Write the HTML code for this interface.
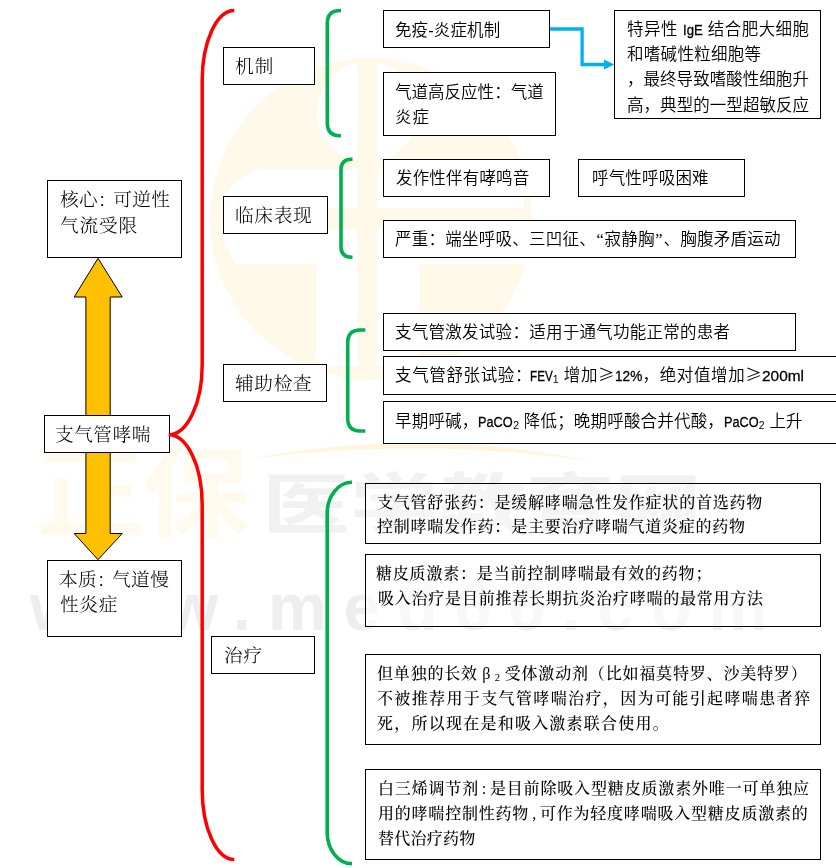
<!DOCTYPE html><html lang="zh-CN"><head><meta charset="utf-8"><title>支气管哮喘</title><style>

*{margin:0;padding:0;box-sizing:border-box}
html,body{width:836px;height:868px;background:#fff;overflow:hidden}
#stage{position:relative;width:836px;height:868px;overflow:hidden;background:#fff}
svg.bg,svg.fg{position:absolute;left:0;top:0}
.b{position:absolute;border:1px solid #000;background:#fff}
.t{position:absolute;white-space:nowrap;color:#000;will-change:transform;text-align:justify;text-align-last:justify;text-justify:inter-character}
.B{font-family:"Liberation Serif","Noto Serif CJK SC",serif;font-size:18.67px;line-height:26px;font-weight:300}
.G{font-family:"Liberation Sans","Noto Sans CJK SC",sans-serif;font-size:16.5px;line-height:24px;font-weight:350}
.S{font-family:"Liberation Serif","Noto Serif CJK SC",serif;font-size:16.0px;line-height:24px;font-weight:500}
.l{font-family:"Liberation Sans",sans-serif;-webkit-text-stroke:.3px #000;display:inline-block;transform-origin:0 50%;letter-spacing:0}
.sb{font-size:10.5px;position:relative;top:2px;letter-spacing:0}
.G .sb{font-family:"Liberation Sans",sans-serif}
.q{display:inline-block;width:8.4px;text-align:center;text-align-last:center;font-family:"Liberation Serif",serif}
.q:first-of-type{}
.ge{font-family:"Noto Sans CJK SC",sans-serif}
.nc{margin-right:-4px}
.fw{display:inline-block;width:16.7px;text-align:center;text-align-last:center}
.hw{display:inline-block;width:10px;text-align:center;text-align-last:center}
.wm{position:absolute;white-space:nowrap;font-family:"Liberation Sans","Noto Sans CJK SC",sans-serif}

</style></head><body><div id="stage">
<svg class="bg" width="836" height="868" viewBox="0 0 836 868">
<defs><clipPath id="dc"><circle cx="371" cy="219" r="161"/></clipPath></defs>
<circle cx="371" cy="219" r="161" fill="#fff9ea"/>
<g fill="#fff" clip-path="url(#dc)">
<circle cx="367.5" cy="112" r="50"/>
<path d="M262 169 H524 V208.5 H222 Q230 176 262 169Z"/>
<path d="M221 229 H530 V264 H420 V352 Q420 366 405 366 H331 Q316 366 316 352 V264 H236 Q226 250 221 229Z"/>
</g>
<rect x="357.5" y="58" width="20" height="321" fill="#fff9ea"/>
<path d="M250 459 Q430 424 600 463 Q430 436 250 459Z" fill="#fff6df"/>
</svg>
<div class="wm" id="wm1" style="left:36px;top:419px;font-size:108px;line-height:150px;letter-spacing:-2px;color:#fffaee;font-weight:700;transform:scaleY(.92);transform-origin:0 81px">正保</div>
<div class="wm" id="wm2" style="left:262px;top:455px;font-size:66px;line-height:100px;color:#f1f1f1;font-weight:700;transform:scaleX(1.333);transform-origin:0 0">医学教育网</div>
<div class="wm" id="wm3" style="left:30px;top:557.2px;font-size:66px;line-height:100px;letter-spacing:17px;color:#eeeeee;font-weight:700;font-family:&quot;Liberation Sans&quot;,sans-serif">www.med66.com</div>
<svg class="fg" width="836" height="868" viewBox="0 0 836 868">
<g fill="#ffc000" stroke="#000" stroke-width="1" stroke-linejoin="miter">
<path d="M98 258.3 L122.2 297 H110.2 V416 H85.9 V297 H74.2 Z"/>
<path d="M85.9 452 H110.2 V533.5 H122.2 L98 559.7 L74.2 533.5 H85.9 Z"/>
</g>
<g fill="none" stroke="#00b050" stroke-width="3.6" stroke-linecap="butt">
<path d="M341 10.5 H340 Q327.3 10.5 327.3 23.5 V122.7 Q327.3 135.7 340 135.7 H341"/>
<path d="M352.5 159.2 H351.5 Q341.0 159.2 341.0 170 V246.4 Q341.0 257.2 351.5 257.2 H352.5"/>
<path d="M365.3 330 H360 Q347.7 330 347.7 343 V418 Q347.7 431 360 431 H365.3"/>
<path d="M352 482.2 A24.8 31 0 0 0 327.2 513.2 V832.6 A24.8 31 0 0 0 352 863.6"/>
</g>
<path d="M550 29 H582.1 V64.5 H606" fill="none" stroke="#00b0f0" stroke-width="3.3"/>
<path d="M604 59.6 L614.4 64.5 L604 69.4Z" fill="#00b0f0"/>
</svg>
<div class="b" style="left:47px;top:180px;width:135px;height:78px"></div>
<div class="b" style="left:44px;top:415px;width:126px;height:38px"></div>
<div class="b" style="left:47px;top:560px;width:135px;height:77px"></div>
<div class="b" style="left:223px;top:47px;width:92px;height:38px"></div>
<div class="b" style="left:223px;top:196px;width:105px;height:38px"></div>
<div class="b" style="left:223px;top:364px;width:104px;height:38px"></div>
<div class="b" style="left:211px;top:636px;width:104px;height:38px"></div>
<div class="b" style="left:383px;top:10px;width:167px;height:38px"></div>
<div class="b" style="left:383px;top:72px;width:173px;height:64px"></div>
<div class="b" style="left:614px;top:10px;width:207px;height:109px"></div>
<div class="b" style="left:383px;top:159px;width:167px;height:38px"></div>
<div class="b" style="left:578px;top:159px;width:167px;height:38px"></div>
<div class="b" style="left:383px;top:220px;width:413px;height:38px"></div>
<div class="b" style="left:383px;top:313px;width:413px;height:38px"></div>
<div class="b" style="left:383px;top:356px;width:468px;height:39px"></div>
<div class="b" style="left:383px;top:401px;width:468px;height:43px"></div>
<div class="b" style="left:365px;top:483px;width:456px;height:61px;background:rgba(255,255,255,.3)"></div>
<div class="b" style="left:365px;top:554px;width:456px;height:73px;background:rgba(255,255,255,.6)"></div>
<div class="b" style="left:365px;top:654px;width:456px;height:91px;background:none"></div>
<div class="b" style="left:365px;top:769px;width:456px;height:91px;background:none"></div>
<svg class="fg" width="836" height="868" viewBox="0 0 836 868"><path d="M234.3 10.5 A32.1 70 0 0 0 202.2 80.5 V364.8 A33.5 70 0 0 1 168.7 434.8 A33.5 70 0 0 1 202.2 504.8 V789.5 A32.1 70 0 0 0 234.3 859.5" fill="none" stroke="#ff0000" stroke-width="3.5" stroke-linecap="butt"/></svg>
<div class="t B" id="L0" style="left:59.60px;top:187.10px;width:109.90px">核心<span class="nc">：</span>可逆性</div>
<div class="t B" id="L1" style="left:59.60px;top:212.50px;width:77.20px">气流受限</div>
<div class="t B" id="L2" style="left:55.00px;top:422.10px;width:95.40px">支气管哮喘</div>
<div class="t B" id="L3" style="left:59.00px;top:566.60px;width:109.80px">本质<span class="nc">：</span>气道慢</div>
<div class="t B" id="L4" style="left:59.60px;top:592.10px;width:57.40px">性炎症</div>
<div class="t B" id="L5" style="left:235.30px;top:54.10px;width:38.30px">机制</div>
<div class="t B" id="L6" style="left:235.40px;top:202.70px;width:76.70px">临床表现</div>
<div class="t B" id="L7" style="left:235.40px;top:371.10px;width:76.70px">辅助检查</div>
<div class="t B" id="L8" style="left:224.00px;top:643.10px;width:38.10px">治疗</div>
<div class="t G" id="L9" style="left:395.10px;top:17.50px;width:105.20px">免疫-炎症机制</div>
<div class="t G" id="L10" style="left:394.70px;top:79.80px;width:148.70px">气道高反应性：气道</div>
<div class="t G" id="L11" style="left:394.70px;top:104.70px;width:34.10px">炎症</div>
<div class="t G" id="L12" style="left:626.90px;top:17.45px;width:182.10px">特异性 <span class="l" style="font-size:15.3px;transform:scaleX(0.862);margin-right:-3.17px">IgE</span> 结合肥大细胞</div>
<div class="t G" id="L13" style="left:626.90px;top:42.00px;width:134.10px">和嗜碱性粒细胞等</div>
<div class="t G" id="L14" style="left:626.50px;top:67.05px;width:181.90px">，最终导致嗜酸性细胞升</div>
<div class="t G" id="L15" style="left:626.90px;top:92.50px;width:182.10px">高，典型的一型超敏反应</div>
<div class="t G" id="L16" style="left:395.60px;top:166.00px;width:133.30px">发作性伴有哮鸣音</div>
<div class="t G" id="L17" style="left:592.10px;top:166.00px;width:116.60px">呼气性呼吸困难</div>
<div class="t G" id="L18" style="left:394.80px;top:227.40px;width:385.40px">严重：端坐呼吸、三凹征、<span class="q">“</span>寂静胸<span class="q">”</span>、胸腹矛盾运动</div>
<div class="t G" id="L19" style="left:395.20px;top:320.30px;width:335.10px">支气管激发试验：适用于通气功能正常的患者</div>
<div class="t G" id="L20" style="left:395.10px;top:362.40px;width:408.80px">支气管舒张试验：<span class="l" style="font-size:15.3px;transform:scaleX(0.763);margin-left:-2px;margin-right:-7.06px">FEV</span><span class="sb">1</span> 增加<span class="ge">≥</span><span class="l" style="font-size:15.3px;transform:scaleX(0.892);margin-right:-3.32px">12%</span>，绝对值增加<span class="ge">≥</span><span class="l" style="font-size:15.3px;transform:scaleX(1.008);margin-right:0.33px">200ml</span></div>
<div class="t G" id="L21" style="left:395.20px;top:408.60px;width:407.60px">早期呼碱，<span class="l" style="font-size:15.3px;transform:scaleX(0.833);margin-right:-6.96px">PaCO</span><span class="sb">2</span> 降低；晚期呼酸合并代酸，<span class="l" style="font-size:15.3px;transform:scaleX(0.833);margin-right:-6.96px">PaCO</span><span class="sb">2</span> 上升</div>
<div class="t S" id="L22" style="left:376.70px;top:490.50px;width:385.30px">支气管舒张药：是缓解哮喘急性发作症状的首选药物</div>
<div class="t S" id="L23" style="left:376.70px;top:514.90px;width:368.10px">控制哮喘发作药：是主要治疗哮喘气道炎症的药物</div>
<div class="t S" id="L24" style="left:376.40px;top:561.80px;width:335.40px">糖皮质激素：是当前控制哮喘最有效的药物；</div>
<div class="t S" id="L25" style="left:377.60px;top:586.90px;width:385.10px">吸入治疗是目前推荐长期抗炎治疗哮喘的最常用方法</div>
<div class="t S" id="L26" style="left:376.60px;top:661.80px;width:429.70px">但单独的长效<span class="fw">β</span><span class="sb">2</span> 受体激动剂（比如福莫特罗、沙美特罗）</div>
<div class="t S" id="L27" style="left:376.60px;top:687.20px;width:433.00px">不被推荐用于支气管哮喘治疗，因为可能引起哮喘患者猝</div>
<div class="t S" id="L28" style="left:376.60px;top:712.00px;width:291.80px">死，所以现在是和吸入激素联合使用。</div>
<div class="t S" id="L29" style="left:377.50px;top:776.80px;width:431.10px">白三烯调节剂<span class="hw">:</span>是目前除吸入型糖皮质激素外唯一可单独应</div>
<div class="t S" id="L30" style="left:377.50px;top:801.90px;width:429.80px">用的哮喘控制性药物<span class="hw">,</span>可作为轻度哮喘吸入型糖皮质激素的</div>
<div class="t S" id="L31" style="left:377.50px;top:827.20px;width:97.30px">替代治疗药物</div>
</div></body></html>
